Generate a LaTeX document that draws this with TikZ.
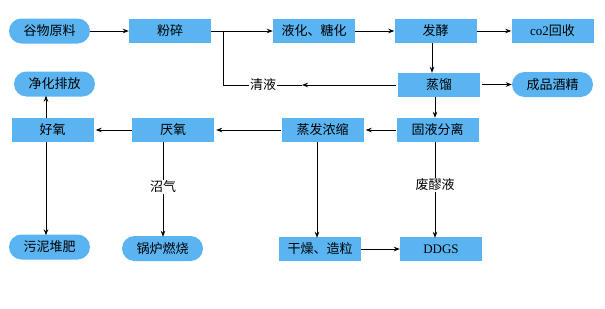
\documentclass[tikz,border=0pt]{standalone}
\usepackage{fontspec}
\setmainfont{Liberation Serif}
\newfontfamily\cjk{Noto Sans CJK SC}
\usetikzlibrary{arrows.meta}
\definecolor{boxblue}{RGB}{90,180,242}
\tikzset{
  stepbox/.style={rectangle, fill=boxblue, minimum width=82pt, minimum height=24pt, inner sep=0pt, font=\cjk\fontsize{13pt}{15pt}\selectfont},
  pillbox/.style={rectangle, rounded corners=12.5pt, fill=boxblue, minimum width=81pt, minimum height=25pt, inner sep=0pt, font=\cjk\fontsize{13pt}{15pt}\selectfont},
  conn/.style={draw=black, line width=0.8pt, -{Stealth[length=6pt,width=4.5pt]}},
  plain/.style={draw=black, line width=0.8pt},
  lbl/.style={fill=white, inner sep=1pt, font=\cjk\fontsize{13pt}{15pt}\selectfont}
}
\begin{document}
\begin{tikzpicture}[x=1pt,y=-1pt]
\useasboundingbox (0,0) rectangle (605,308);
% row 1
\node[pillbox] (gw) at (49.5,31) {谷物原料};
\node[stepbox] (fs) at (170,31) {粉碎};
\node[stepbox] (yh) at (314,31) {液化、糖化};
\node[stepbox] (fj) at (435.5,31) {发酵};
\node[stepbox] (co) at (552.5,31) {{\rmfamily co2}回收};
% row 2
\node[pillbox] (jh) at (54.5,84) {净化排放};
\node[stepbox] (zl) at (439,85) {蒸馏};
\node[pillbox] (cp) at (552.5,84.5) {成品酒精};
% row 3
\node[stepbox] (hy) at (52.5,130) {好氧};
\node[stepbox] (yy) at (173,130) {厌氧};
\node[stepbox] (zf) at (322.5,130) {蒸发浓缩};
\node[stepbox] (gy) at (437.5,130) {固液分离};
% row 4
\node[pillbox] (wn) at (49.5,247) {污泥堆肥};
\node[pillbox] (gl) at (162.5,248.5) {锅炉燃烧};
\node[stepbox] (gz) at (320,249) {干燥、造粒};
\node[stepbox] (dd) at (441,249) {{\rmfamily DDGS}};
% helper coordinates
\coordinate (x46) at (46,0);
\coordinate (x163) at (163,0);
\coordinate (x317) at (317,0);
\coordinate (x432) at (432,0);
\coordinate (x435) at (435,0);
\coordinate (y84) at (0,84.5);
\coordinate (br) at (223,31);
\coordinate (brd) at (223,85);
\coordinate (qm) at (302,85);
% connectors row 1
\draw[conn] (gw.east) -- (gw.east -| fs.west);
\draw[conn] (fs.east) -- (yh.west);
\draw[conn] (yh.east) -- (fj.west);
\draw[conn] (fj.east) -- (co.west);
\draw[conn] (fj.south -| x432) -- (zl.north -| x432);
% clear liquid return
\draw[conn] ([xshift=-2pt]zl.west) -- (qm);
\draw[plain] (qm) -- (brd) -- (br);
\node[lbl] (ql) at (263,85) {清液};
% row 2
\draw[conn] ([xshift=2pt]zl.east |- y84) -- (cp.west |- y84);
\draw[conn] (zl.south -| x435) -- (gy.north -| x435);
% row 3
\draw[conn] (gy.west) -- ([xshift=2pt]zf.east);
\draw[conn] (zf.west) -- ([xshift=2pt]yy.east);
\draw[conn] (yy.west) -- ([xshift=2pt]hy.east);
\draw[conn] (hy.north -| x46) -- ([yshift=1pt]jh.south -| x46);
% verticals down
\draw[conn] (hy.south -| x46) -- ([yshift=-1pt]wn.north -| x46);
\draw[conn] (yy.south -| x163) -- ([yshift=-1pt]gl.north -| x163);
\node[lbl] (zq) at (163,187) {沼气};
\draw[conn] (zf.south -| x317) -- ([yshift=-1pt]gz.north -| x317);
\draw[conn] (gy.south -| x435) -- ([yshift=-1pt]dd.north -| x435);
\node[lbl] (fl) at (435,185) {废醪液};
\draw[conn] (gz.east) -- (dd.west);
\end{tikzpicture}
\end{document}
